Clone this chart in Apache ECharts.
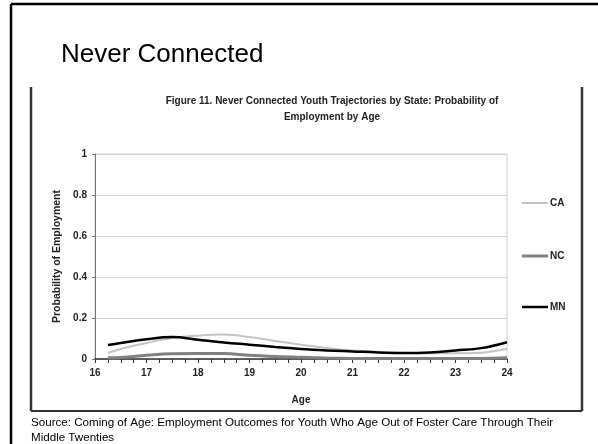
<!DOCTYPE html>
<html>
<head>
<meta charset="utf-8">
<script src="https://cdn.jsdelivr.net/npm/echarts@6/dist/echarts.min.js"></script>
<style>
html,body{margin:0;padding:0;background:#fff;}
#c{width:598px;height:444px;}
</style>
</head>
<body>
<div id="c"></div>
<script>
var ages = [16.25,16.5,17,17.5,18,18.5,19,19.5,20,20.5,21,21.5,22,22.5,23,23.5,24];
var caValues = [0.029,0.049,0.078,0.102,0.114,0.119,0.107,0.088,0.070,0.054,0.042,0.035,0.029,0.028,0.028,0.031,0.050];
var ncValues = [0.006,0.007,0.018,0.026,0.027,0.027,0.018,0.012,0.008,0.005,0.003,0.002,0.002,0.002,0.002,0.003,0.006];
var mnValues = [0.068,0.078,0.096,0.107,0.094,0.081,0.070,0.059,0.049,0.042,0.037,0.032,0.029,0.032,0.042,0.053,0.082];
var seriesNames = ['CA','NC','MN'];
var slideTitle = 'Never Connected';
var chartTitle = 'Figure 11. Never Connected Youth Trajectories by State: Probability of\nEmployment by Age';
var sourceText = 'Source: Coming of Age: Employment Outcomes for Youth Who Age Out of Foster Care Through Their\nMiddle Twenties';

function pairs(v){ return ages.map(function(a,i){ return [a, v[i]]; }); }

var chart = echarts.init(document.getElementById('c'), null, {renderer:'canvas'});
var fontB = 'Liberation Sans Narrow, Arial Narrow, Liberation Sans, Arial, sans-serif';
var styles = [
  {color:'#c4c4c4', width:2},
  {color:'#808080', width:3},
  {color:'#000000', width:2.5}
];
var values = [caValues, ncValues, mnValues];
var legendTops = [193, 246, 297];

chart.setOption({
  backgroundColor:'#ffffff',
  animation:false,
  title:[
    {text:slideTitle, left:56, top:37, textStyle:{fontFamily:'Liberation Sans, Arial, sans-serif', fontSize:26, fontWeight:'normal', color:'#000'}},
    {text:chartTitle, left:327, top:88, textAlign:'center', textStyle:{fontFamily:fontB, fontSize:10, fontWeight:'bold', color:'#222', lineHeight:16, align:'center'}},
    {text:sourceText, left:26, top:410, textStyle:{fontFamily:'Liberation Sans, Arial, sans-serif', fontSize:11.6, fontWeight:'normal', color:'#000', lineHeight:15}}
  ],
  legend: seriesNames.map(function(n,i){
    return {
      data:[{name:n, icon:'rect'}],
      left:517, top:legendTops[i], orient:'vertical',
      itemWidth:26, itemHeight:styles[i].width,
      selectedMode:false,
      textStyle:{fontFamily:fontB, fontSize:10, fontWeight:'bold', color:'#222', padding:[0,0,0,-3]}
    };
  }),
  grid:{left:95, right:91, top:154, bottom:85, show:true, borderColor:'#d0d0d0', borderWidth:1},
  xAxis:{
    type:'value', min:16, max:24, interval:1,
    name:'Age', nameLocation:'middle', nameGap:36,
    nameTextStyle:{fontFamily:fontB, fontSize:10, fontWeight:'bold', color:'#222'},
    axisLine:{lineStyle:{color:'#333', width:1.5}},
    axisTick:{show:true, length:4, lineStyle:{color:'#333'}},
    minorTick:{show:true, splitNumber:4, length:4, lineStyle:{color:'#333'}},
    axisLabel:{fontFamily:fontB, fontSize:10, fontWeight:'bold', color:'#222', margin:9},
    splitLine:{show:false}
  },
  yAxis:{
    type:'value', min:0, max:1, interval:0.2,
    name:'Probability of Employment', nameLocation:'middle', nameGap:29,
    nameTextStyle:{fontFamily:fontB, fontSize:10.5, fontWeight:'bold', color:'#222'},
    axisLine:{show:true, lineStyle:{color:'#777', width:1}},
    axisTick:{show:true, length:3, inside:false, lineStyle:{color:'#777'}},
    axisLabel:{fontFamily:fontB, fontSize:10, fontWeight:'bold', color:'#222', margin:8},
    splitLine:{show:true, lineStyle:{color:'#d4d4d4', width:1}}
  },
  graphic:[
    {type:'line', shape:{x1:11, y1:4, x2:598, y2:4}, style:{stroke:'#000', lineWidth:2.5}},
    {type:'line', shape:{x1:11, y1:4, x2:11, y2:444}, style:{stroke:'#000', lineWidth:2.5}},
    {type:'line', shape:{x1:31, y1:87, x2:31, y2:411}, style:{stroke:'#333', lineWidth:2.5}},
    {type:'line', shape:{x1:582, y1:87, x2:582, y2:411}, style:{stroke:'#333', lineWidth:2.5}},
    {type:'line', shape:{x1:31, y1:411, x2:582, y2:411}, style:{stroke:'#333', lineWidth:2}}
  ],
  series: seriesNames.map(function(n,i){
    return {
      name:n, type:'line', data:pairs(values[i]), smooth:0.4,
      showSymbol:false, symbol:'none',
      lineStyle:{color:styles[i].color, width:styles[i].width},
      itemStyle:{color:styles[i].color},
      z: 2+i
    };
  })
});
</script>
</body>
</html>
